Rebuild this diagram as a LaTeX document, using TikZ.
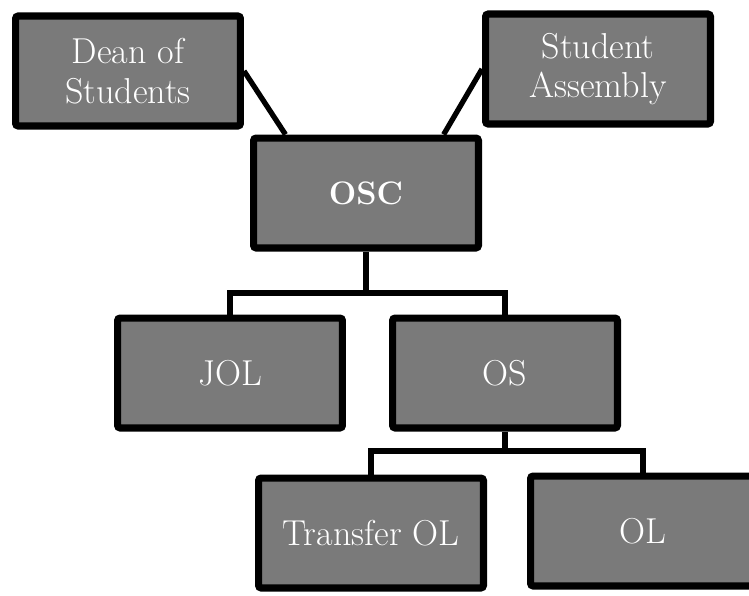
\documentclass[tikz,border=0pt]{standalone}
\usepackage{fontspec}
\usepackage{tikz}

\begin{document}
\begin{tikzpicture}[x=0.02cm,y=-0.02cm,
    unit/.style={shape=rectangle,draw=black,fill=black!52,line width=4pt,rounded corners=1.5pt,
        minimum width=4.5cm,minimum height=2.2cm,align=center,text=white,
        font=\fontsize{20.5}{22.5}\selectfont},
    link/.style={draw=black,line width=3pt}]
    \useasboundingbox (0,0) rectangle (749,595);
    \node[unit] (dean) at (128,71) {Dean of\\Students};
    \node[unit] (assembly) at (598,69) {Student\\Assembly};
    \node[unit,font=\fontsize{18.5}{21}\selectfont\bfseries] (osc) at (366,193) {OSC};
    \node[unit] (jol) at (230,373) {JOL};
    \node[unit] (os) at (505,373) {OS};
    \node[unit] (transfer) at (371,533) {Transfer OL};
    \node[unit] (ol) at (643,531) {OL};
    \coordinate (oscbar) at (366,293);
    \coordinate (osbar) at (505,451);
    \path [link] (dean.east) -- (osc.144);
    \path [link] (assembly.west) -- (osc.37);
    \path [link] (osc.south) -- (oscbar);
    \path [link] (jol.north) |- (oscbar) -| (os.north);
    \path [link] (os.south) -- (osbar);
    \path [link] (transfer.north) |- (osbar) -| (ol.north);
\end{tikzpicture}
\end{document}
